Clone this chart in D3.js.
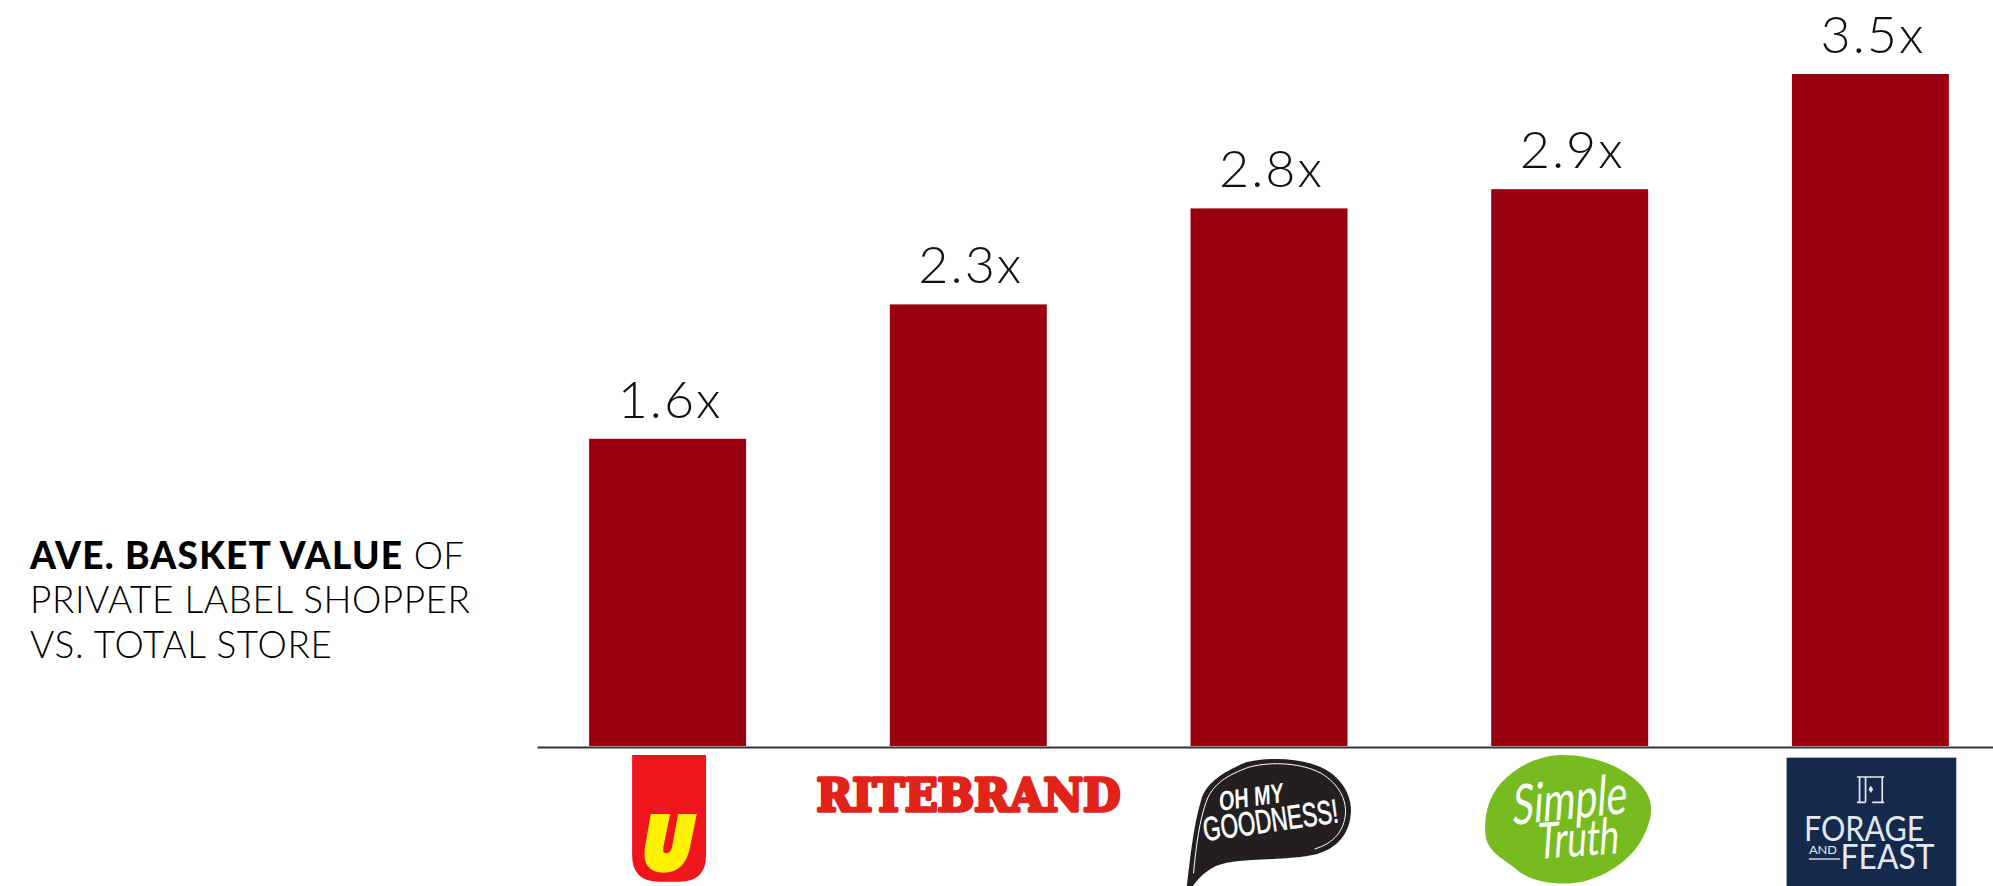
<!DOCTYPE html>
<html>
<head>
<meta charset="utf-8">
<style>
  html, body { margin: 0; padding: 0; background: #fff; overflow: hidden; }
  svg { display: block; font-family: Lato, sans-serif; }
</style>
<script src="https://cdn.jsdelivr.net/npm/d3@7/dist/d3.min.js"></script>
</head>
<body>
<svg id="chart" width="1993" height="886"></svg>
<script>
// Average basket value multiples per private-label brand
const brands = ["U", "Ritebrand", "Oh My Goodness!", "Simple Truth", "Forage and Feast"];
const multiples = [1.6, 2.3, 2.8, 2.9, 3.5];
const captionLines = [
  [["AVE. BASKET VALUE", 900, 372], [" OF", 300, 61]],
  [["PRIVATE LABEL SHOPPER", 300, 440]],
  [["VS. TOTAL STORE", 300, 302]]
];

const svg = d3.select("#chart");
const barColor = "#99000f";

const x = d3.scaleBand().domain(brands).range([538, 2000])
  .paddingInner(0.478).paddingOuter(0.17);
const y = d3.scaleLinear().domain([0, 3.5]).range([746, 74]);

// Bars
svg.append("g").selectAll("rect").data(brands).join("rect")
  .attr("x", d => x(d))
  .attr("width", x.bandwidth())
  .attr("y", (d, i) => y(multiples[i]))
  .attr("height", (d, i) => y(0) - y(multiples[i]))
  .attr("fill", barColor);

// Value labels
svg.append("g").selectAll("text").data(brands).join("text")
  .attr("x", d => x(d) + x.bandwidth() / 2 + 2.5)
  .attr("y", (d, i) => y(multiples[i]) - 21)
  .attr("text-anchor", "middle")
  .attr("font-size", 52)
  .attr("font-weight", 300)
  .attr("letter-spacing", 2)
  .attr("fill", "#111")
  .text((d, i) => d3.format(".1f")(multiples[i]) + "x");

// Baseline with no tick labels; logos take their place
const axis = svg.append("g").attr("transform", `translate(-1,${y(0) + 1})`)
  .call(d3.axisBottom(x).tickSize(0).tickFormat(""));
axis.select(".domain").attr("stroke", "#333").attr("stroke-width", 2);

// Multi-weight caption on the left
const caption = svg.append("g").attr("fill", "#000").attr("font-size", 37);
const captionBaselines = [569, 613, 658];
captionLines.forEach((runs, i) => {
  const t = caption.append("text").attr("x", 30).attr("y", captionBaselines[i])
    .attr("xml:space", "preserve");
  runs.forEach(([s, w, len]) => {
    t.append("tspan").attr("font-weight", w).attr("textLength", len)
      .attr("lengthAdjust", "spacing").style("white-space", "pre").text(s);
  });
});

// Brand logos, sketched in a 3-unit-per-pixel local space
const logo = (i, dx, top) => svg.append("g")
  .attr("transform", `translate(${x(brands[i]) + x.bandwidth() / 2 + dx},${top}) scale(${1 / 3})`);

// U shield
const u = logo(0, -57.5, 740);
u.append("path").attr("fill", "#ee161c").attr("d", "M66,45H288V345Q288,425 208,425H146Q66,425 66,345Z");
u.append("path").attr("fill", "#fff200")
  .attr("d", "M122,222H180L160,320Q156,340 170,340Q182,338 186,320L204,222H260L240,320Q225,398 160,398Q95,398 104,325Z");

// Ritebrand wordmark
logo(1, -168.5, 760).append("text")
  .attr("x", 50).attr("y", 152)
  .attr("textLength", 912).attr("lengthAdjust", "spacingAndGlyphs")
  .attr("font-family", "'DejaVu Serif', serif").attr("font-weight", 700).attr("font-size", 136)
  .attr("fill", "#e2231a").attr("stroke", "#e2231a").attr("stroke-width", 10).attr("stroke-linejoin", "round")
  .text("RITEBRAND");

// Oh My Goodness speech bubble
const omg = logo(2, -99.5, 745);
omg.append("path").attr("fill", "#231f20")
  .attr("d", "M52,423C62,340 72,240 95,165C108,120 150,85 230,52C300,35 400,38 465,72C525,105 548,160 544,205C540,265 505,310 440,328C370,345 270,340 190,350C140,356 105,375 70,423Z");
omg.append("path").attr("fill", "none").attr("stroke", "#fff").attr("stroke-width", 3)
  .attr("d", "M72,385C80,300 90,225 112,165C130,120 170,90 240,66C310,48 400,55 455,85C510,118 530,165 528,205C524,255 495,295 435,312");
omg.append("text").attr("transform", "translate(150,198) rotate(-8) skewX(-6)")
  .attr("textLength", 195).attr("lengthAdjust", "spacingAndGlyphs")
  .attr("font-family", "'Liberation Sans Narrow', 'Liberation Sans', sans-serif").attr("font-weight", 700)
  .attr("font-size", 82).attr("fill", "#fff").text("OH MY");
omg.append("text").attr("transform", "translate(106,288) rotate(-8)")
  .attr("textLength", 408).attr("lengthAdjust", "spacingAndGlyphs")
  .attr("font-family", "'Liberation Sans Narrow', 'Liberation Sans', sans-serif").attr("font-weight", 400)
  .attr("font-size", 100).attr("fill", "#fff").attr("stroke", "#fff").attr("stroke-width", 2).text("GOODNESS!");

// Simple Truth blob
const st = logo(3, -100.5, 745);
st.append("path").attr("fill", "#76bc21")
  .attr("d", "M270,30C380,28 470,70 520,125C550,165 552,200 535,245C510,320 440,385 340,410C280,422 200,415 150,380C110,345 65,330 50,280C42,220 55,160 95,115C140,65 200,35 270,30Z");
st.append("text").attr("transform", "translate(128,240) rotate(-6) skewX(-10)")
  .attr("textLength", 345).attr("lengthAdjust", "spacingAndGlyphs")
  .attr("font-family", "Lato, sans-serif").attr("font-weight", 400).attr("font-size", 165)
  .attr("fill", "#fff").text("Simple");
st.append("text").attr("transform", "translate(202,342) rotate(-4) skewX(-8)")
  .attr("textLength", 245).attr("lengthAdjust", "spacingAndGlyphs")
  .attr("font-family", "Lato, sans-serif").attr("font-weight", 400).attr("font-size", 150)
  .attr("fill", "#fff").text("Truth");

// Forage and Feast panel
const ff = logo(4, -101.5, 745);
ff.append("rect").attr("x", 53).attr("y", 38).attr("width", 509).attr("height", 385).attr("fill", "#14294b");
const ffInk = "#e4e9ef";
ff.append("path").attr("fill", "none").attr("stroke", ffInk).attr("stroke-width", 5)
  .attr("d", "M264,96H346M272,96V172M264,172H290M340,96V172M346,172H310M290,96V172");
ff.append("path").attr("fill", ffInk).attr("d", "M306,122L313,133L306,144L299,133Z");
const ffWord = ff.append("text").attr("font-weight", 400).attr("fill", ffInk);
[["FORAGE ", 105, 288, 385, 106], ["AND ", 120, 327, 94, 36], ["FEAST", 215, 372, 282, 106]].forEach(([s, tx, ty, len, fs]) => {
  ffWord.append("tspan").attr("x", tx).attr("y", ty)
    .attr("textLength", len).attr("lengthAdjust", "spacingAndGlyphs")
    .attr("font-size", fs).text(s);
});
ff.append("rect").attr("x", 120).attr("y", 340).attr("width", 93).attr("height", 4).attr("fill", ffInk);
</script>
</body>
</html>
